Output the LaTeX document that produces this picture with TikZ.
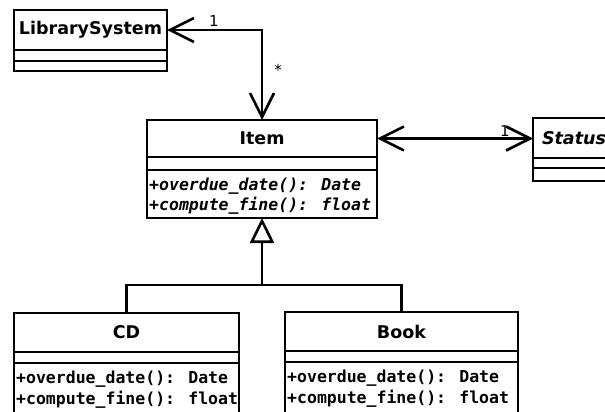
\documentclass[tikz,border=0pt]{standalone}
\usepackage{fontspec}
\setmainfont{DejaVu Sans}
\newfontfamily\codefont{DejaVu Sans Mono}
\usetikzlibrary{arrows.meta,calc}
\begin{document}
\begin{tikzpicture}[x=1pt,y=-1pt,
  classbox/.style={draw, line width=2.6pt, anchor=north west, inner sep=0pt, outer sep=0pt},
  classname/.style={font=\fontsize{17.5}{20}\selectfont\bfseries, inner sep=0pt, outer sep=0pt},
  member/.style={font=\fontsize{16.5}{20}\selectfont\codefont\bfseries, anchor=west, inner sep=0pt},
  sep/.style={line width=2.6pt},
  rel/.style={line width=2.6pt},
  nav/.style={rel, arrows={Straight Barb[length=24pt,width=24pt]-Straight Barb[length=24pt,width=24pt]}},
  gen/.style={rel, arrows={-Triangle[open,length=25pt,width=24pt,fill=white]}},
  mult/.style={font=\fontsize{15}{17}\selectfont, inner sep=0pt}
]
\clip (0,0) rectangle (605,412);
\fill[white] (0,0) rectangle (605,412);

% LibrarySystem
\node[classbox, minimum width=153pt, minimum height=61pt] (ls) at (14,10) {};
\node[classname, minimum width=153pt, minimum height=40pt] (lst) at (90.5,30) {LibrarySystem};
\draw[sep] (ls.west |- 0,50) -- (ls.east |- 0,50);
\draw[sep] (ls.west |- 0,61) -- (ls.east |- 0,61);

% Item
\node[classbox, minimum width=230pt, minimum height=98pt] (item) at (147,120) {};
\node[classname, minimum width=230pt, minimum height=37pt] (itemt) at (262,138.5) {Item};
\draw[sep] (item.west |- 0,157) -- (item.east |- 0,157);
\draw[sep] (item.west |- 0,170) -- (item.east |- 0,170);
\node[member] (itemm1) at (149,186) {\itshape +overdue\_date(): Date};
\node[member] (itemm2) at (149,206) {\itshape +compute\_fine(): float};

% Status
\node[classbox, minimum width=110pt, minimum height=63pt] (status) at (533,118) {};
\node[classname, anchor=west, minimum height=40pt, inner xsep=9pt, text width=90pt, align=left] (statust) at (533,138) {\itshape Status};
\draw[sep] (status.west |- 0,158) -- (status.east |- 0,158);
\draw[sep] (status.west |- 0,168) -- (status.east |- 0,168);

% CD
\node[classbox, minimum width=225pt, minimum height=100pt] (cd) at (14,313) {};
\node[classname, minimum width=225pt, minimum height=39pt] (cdt) at (126.5,332.5) {CD};
\draw[sep] (cd.west |- 0,352) -- (cd.east |- 0,352);
\draw[sep] (cd.west |- 0,363) -- (cd.east |- 0,363);
\node[member] (cdm1) at (16,379) {+overdue\_date(): Date};
\node[member] (cdm2) at (16,400) {+compute\_fine(): float};

% Book
\node[classbox, minimum width=233pt, minimum height=101pt] (book) at (285,312) {};
\node[classname, minimum width=233pt, minimum height=39pt] (bookt) at (401.5,331.5) {Book};
\draw[sep] (book.west |- 0,351) -- (book.east |- 0,351);
\draw[sep] (book.west |- 0,362) -- (book.east |- 0,362);
\node[member] (bookm1) at (287,378) {+overdue\_date(): Date};
\node[member] (bookm2) at (287,399) {+compute\_fine(): float};

% associations
\draw[nav] (lst.east) -| (item.north);
\node[mult] (m1) at (214,21) {1};
\node[mult] (m2) at (278,70) {*};
\draw[nav] (itemt.east) -- (itemt.east -| statust.west);
\node[mult] (m3) at (505,131) {1};

% generalisation
\coordinate (split) at (item.south |- 0,285);
\draw[rel] (cd.north) |- (split) -| (book.north);
\draw[gen] (split) -- (item.south);
\end{tikzpicture}
\end{document}
